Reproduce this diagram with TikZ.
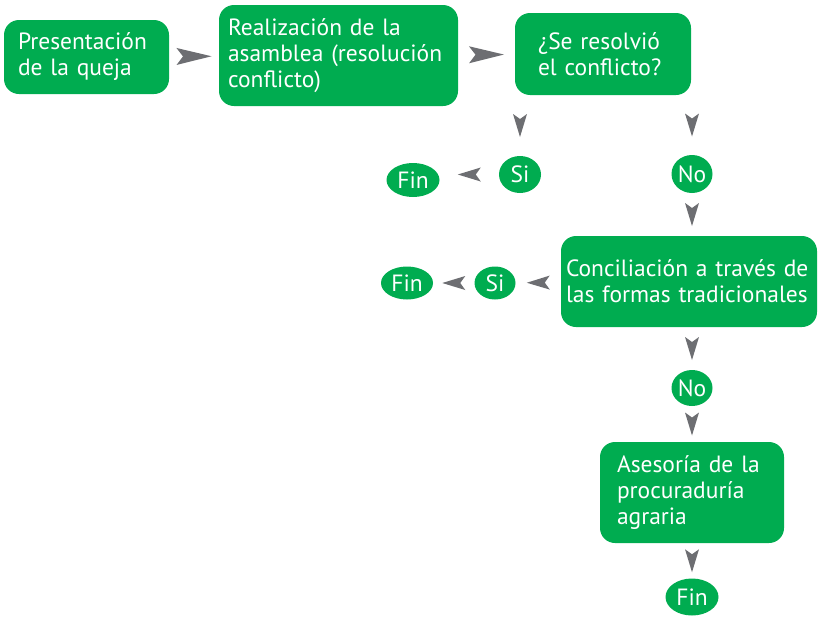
\documentclass[tikz,border=0pt]{standalone}
\usepackage{fontspec}
\setmainfont{PT Sans}
\usetikzlibrary{shapes.geometric,decorations.markings}
\definecolor{verde}{HTML}{00AC50}
\definecolor{gris}{HTML}{6D6E72}
\tikzset{
  caja/.style={fill=verde, text=white, rounded corners=15pt, align=left, inner sep=0pt, font=\fontsize{23.5}{26}\selectfont},
  bola/.style={fill=verde, text=white, ellipse, inner sep=0pt, font=\fontsize{23.5}{26}\selectfont},
  flecha/.style={postaction={decorate}, decoration={markings, mark=at position 0.5 with {\fill[gris] (11.5pt,0pt) -- (-11.5pt,7pt) -- (-6.5pt,0pt) -- (-11.5pt,-7pt) -- cycle;}}},
  flechalarga/.style={postaction={decorate}, decoration={markings, mark=at position 0.5 with {\fill[gris] (17.5pt,0pt) -- (-17.5pt,8.5pt) -- (-11pt,0pt) -- (-17.5pt,-8.5pt) -- cycle;}}}
}
\begin{document}
\begin{tikzpicture}[x=1pt, y=-1pt]
\useasboundingbox (0,0) rectangle (818,616);
\node[caja, minimum width=165pt, minimum height=74pt, text width=137pt] (b1) at (86.5,57) {Presentación\\de la queja};
\node[caja, minimum width=239pt, minimum height=101pt, text width=221pt] (b2) at (338.5,55.5) {Realización de la\\asamblea (resolución\\conflicto)};
\node[caja, minimum width=176pt, minimum height=82pt, text width=130pt] (b3) at (603,54) {¿Se resolvió\\el conflicto?};
\node[caja, minimum width=256pt, minimum height=91pt, text width=246pt] (b4) at (689,281.5) {Conciliación a través de\\las formas tradicionales};
\node[caja, minimum width=184pt, minimum height=101pt, text width=150pt] (b5) at (692,492.5) {Asesoría de la\\procuraduría\\agraria};

\node[bola, minimum width=42pt, minimum height=37pt] (si1) at (520,174.5) {Si};
\node[bola, minimum width=53pt, minimum height=34pt] (fin1) at (413,180) {Fin};
\node[bola, minimum width=41pt, minimum height=38pt] (no1) at (692,174) {No};
\node[bola, minimum width=41pt, minimum height=33pt] (si2) at (495,283) {Si};
\node[bola, minimum width=52pt, minimum height=33pt] (fin2) at (407,283) {Fin};
\node[bola, minimum width=41pt, minimum height=36pt] (no2) at (692,388) {No};
\node[bola, minimum width=53pt, minimum height=37pt] (fin3) at (692,597) {Fin};

\path[flechalarga] (b1) -- (b2);
\path[flechalarga] (b2) -- (b3);
\path[flecha] (b3.south -| si1) -- (si1);
\path[flecha] (b3.south -| no1) -- (no1);
\path[flecha] (si1) -- (si1.west -| fin1.east);
\path[flecha] (no1) -- (no1 |- b4.north);
\path[flecha] (b4) -- (si2);
\path[flecha] (si2) -- (fin2);
\path[flecha] (b4.south -| no2) -- (no2);
\path[flecha] (no2) -- (b5);
\path[flecha] (b5) -- (fin3);
\end{tikzpicture}
\end{document}
